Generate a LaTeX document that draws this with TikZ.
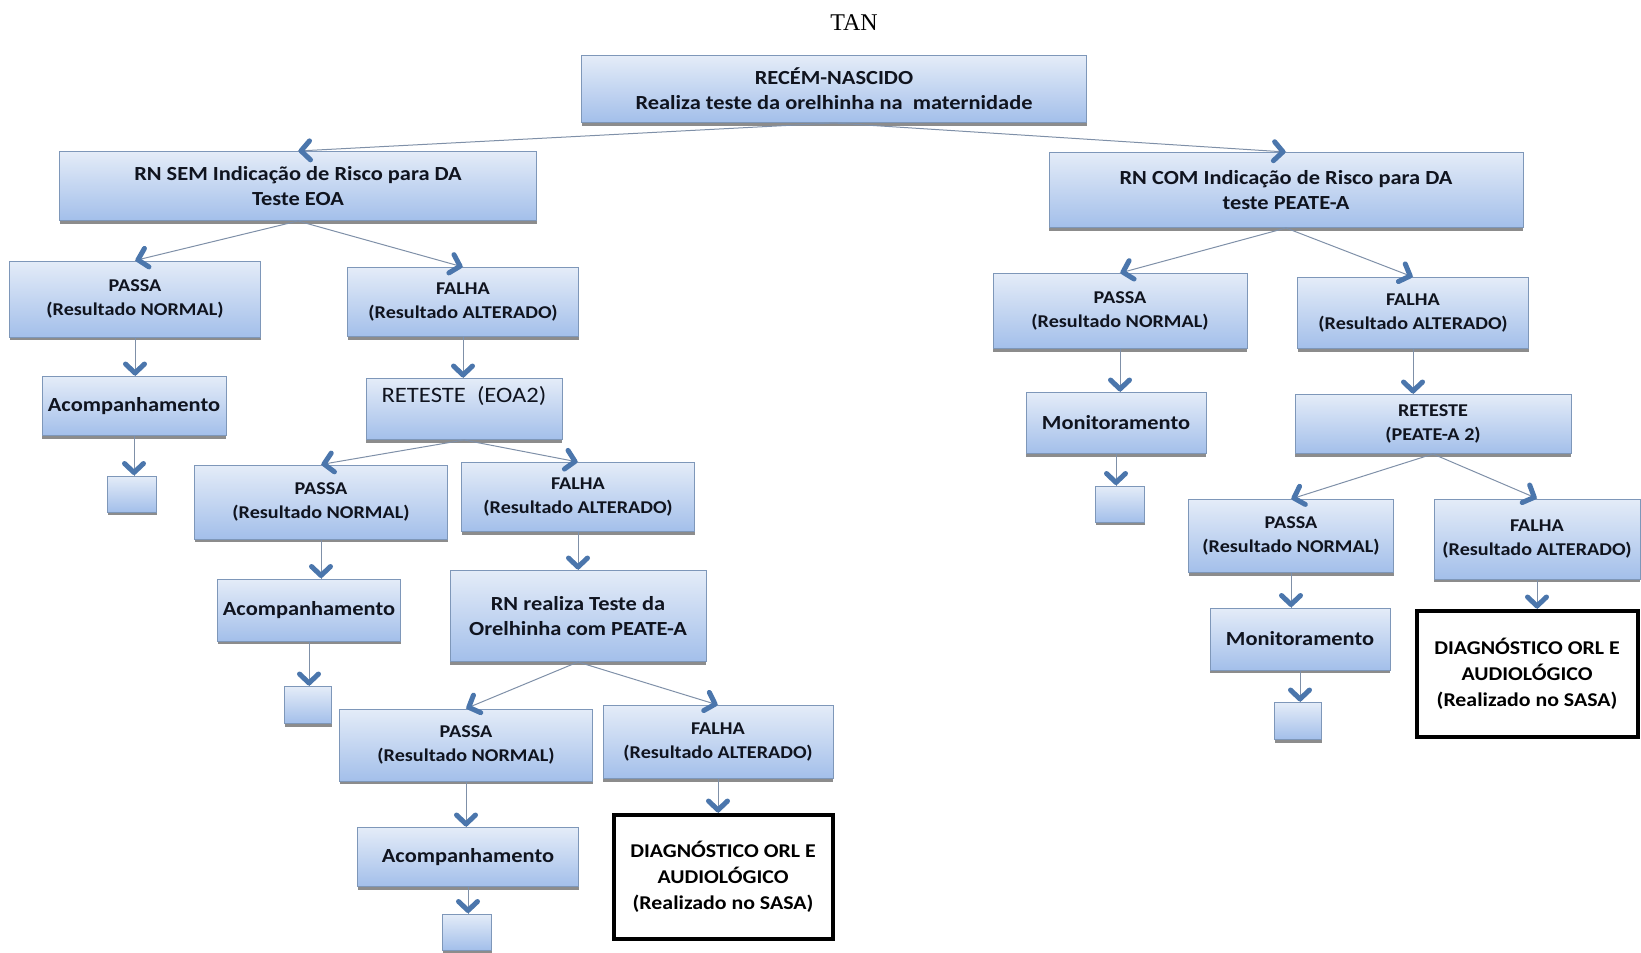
\documentclass[tikz,border=0pt]{standalone}
\usepackage{fontspec}
\setmainfont{Carlito}[FakeStretch=1.12]
\newfontfamily\tanfont{Liberation Serif}
\usetikzlibrary{arrows.meta,shadows,decorations.markings}
\definecolor{boxtop}{HTML}{E4ECF8}
\definecolor{boxbot}{HTML}{A3BFEA}
\definecolor{boxline}{HTML}{7E97B9}
\definecolor{arrblue}{HTML}{4B76AC}
\definecolor{arrline}{HTML}{7F90A8}
\definecolor{txt}{HTML}{10141F}
\tikzset{
  bx/.style={draw=boxline, line width=1pt, top color=boxtop, bottom color=boxbot,
    align=center, text=txt, inner sep=2pt,
    drop shadow={shadow xshift=0pt, shadow yshift=-3pt, fill=gray!80!black, opacity=0.75}},
  big/.style={font=\fontsize{20}{25}\selectfont\bfseries},
  sml/.style={font=\fontsize{18}{24}\selectfont\bfseries},
  diag/.style={draw=black, line width=4pt, fill=white, align=center, text=black,
    font=\fontsize{19.5}{26}\selectfont\bfseries},
  ar/.style={draw=arrline, line width=1pt,
    postaction={decorate, decoration={markings, mark=at position 1 with {
      \draw[arrblue, line width=5pt, line cap=round, line join=round]
        (-12pt,-9.5pt) -- (-3pt,0pt) -- (-12pt,9.5pt);}}}},
}
\begin{document}
\begin{tikzpicture}[x=1pt,y=-1pt]
\useasboundingbox (0,0) rectangle (1641,953);
\node[font=\tanfont\fontsize{24}{24}\selectfont] (tan) at (854,23) {TAN};

\node[bx,big,minimum width=505pt,minimum height=67pt] (main) at (834,89) {RECÉM-NASCIDO\\Realiza teste da orelhinha na\ \ maternidade};

% left branch
\node[bx,big,minimum width=477pt,minimum height=69pt] (sem) at (298,186) {RN SEM Indicação de Risco para DA\\Teste EOA};
\node[bx,sml,minimum width=251pt,minimum height=76pt] (passaA) at (135,299) {PASSA\\(Resultado NORMAL)};
\node[bx,sml,minimum width=231pt,minimum height=69pt] (falhaA) at (463,302) {FALHA\\(Resultado ALTERADO)};
\node[bx,big,minimum width=184pt,minimum height=59pt] (acompA) at (134,406) {Acompanhamento};
\node[bx,minimum width=49pt,minimum height=36pt] (sqA) at (132,494) {};
\node[bx,font=\fontsize{22}{28}\selectfont,minimum width=196pt,minimum height=61pt] (ret1) at (464,409) {RETESTE\ \ (EOA2)\\[2pt]\mbox{}};
\node[bx,sml,minimum width=253pt,minimum height=74pt] (passaB) at (321,502) {PASSA\\(Resultado NORMAL)};
\node[bx,sml,minimum width=233pt,minimum height=69pt] (falhaB) at (578,497) {FALHA\\(Resultado ALTERADO)};
\node[bx,big,minimum width=183pt,minimum height=62pt] (acompB) at (309,610) {Acompanhamento};
\node[bx,minimum width=47pt,minimum height=37pt] (sqB) at (308,705) {};
\node[bx,big,minimum width=256pt,minimum height=91pt] (rnpeate) at (578,616) {RN realiza Teste da\\Orelhinha com PEATE-A};
\node[bx,sml,minimum width=253pt,minimum height=72pt] (passaC) at (466,745) {PASSA\\(Resultado NORMAL)};
\node[bx,sml,minimum width=230pt,minimum height=73pt] (falhaC) at (718,742) {FALHA\\(Resultado ALTERADO)};
\node[bx,big,minimum width=221pt,minimum height=59pt] (acompC) at (468,857) {Acompanhamento};
\node[bx,minimum width=49pt,minimum height=36pt] (sqC) at (467,932) {};
\node[diag,minimum width=219pt,minimum height=124pt] (diagL) at (723,877) {DIAGNÓSTICO ORL E\\AUDIOLÓGICO\\(Realizado no SASA)};

% right branch
\node[bx,big,minimum width=474pt,minimum height=75pt] (com) at (1286,190) {RN COM Indicação de Risco para DA\\teste PEATE-A};
\node[bx,sml,minimum width=254pt,minimum height=75pt] (passaR) at (1120,311) {PASSA\\(Resultado NORMAL)};
\node[bx,sml,minimum width=231pt,minimum height=71pt] (falhaR) at (1413,313) {FALHA\\(Resultado ALTERADO)};
\node[bx,big,minimum width=180pt,minimum height=61pt] (monR) at (1116,423) {Monitoramento};
\node[bx,minimum width=49pt,minimum height=36pt] (sqR) at (1120,504) {};
\node[bx,sml,minimum width=276pt,minimum height=59pt] (ret2) at (1433,424) {RETESTE\\(PEATE-A 2)};
\node[bx,sml,minimum width=205pt,minimum height=73pt] (passaR2) at (1291,536) {PASSA\\(Resultado NORMAL)};
\node[bx,sml,minimum width=206pt,minimum height=80pt] (falhaR2) at (1537,539) {FALHA\\(Resultado ALTERADO)};
\node[bx,big,minimum width=180pt,minimum height=62pt] (monR2) at (1300,639) {Monitoramento};
\node[bx,minimum width=47pt,minimum height=37pt] (sqR2) at (1298,721) {};
\node[diag,minimum width=221pt,minimum height=126pt] (diagR) at (1527,674) {DIAGNÓSTICO ORL E\\AUDIOLÓGICO\\(Realizado no SASA)};

% connectors
\draw[ar] (main.south) -- (sem.north);
\draw[ar] (main.south) -- (com.north);
\draw[ar] (sem.south) -- (passaA.north);
\draw[ar] (sem.south) -- (falhaA.north);
\draw[ar] (passaA.south) -- (passaA.south |- acompA.north);
\draw[ar] (acompA.south) -- (acompA.south |- sqA.north);
\draw[ar] (falhaA.south) -- (falhaA.south |- ret1.north);
\draw[ar] (ret1.south) -- (passaB.north);
\draw[ar] (ret1.south) -- (falhaB.north);
\draw[ar] (passaB.south) -- (passaB.south |- acompB.north);
\draw[ar] (acompB.south) -- (acompB.south |- sqB.north);
\draw[ar] (falhaB.south) -- (falhaB.south |- rnpeate.north);
\draw[ar] (rnpeate.south) -- (passaC.north);
\draw[ar] (rnpeate.south) -- (falhaC.north);
\draw[ar] (passaC.south) -- (passaC.south |- acompC.north);
\draw[ar] (acompC.south) -- (acompC.south |- sqC.north);
\draw[ar] (falhaC.south) -- (falhaC.south |- diagL.north);
\draw[ar] (com.south) -- (passaR.north);
\draw[ar] (com.south) -- (falhaR.north);
\draw[ar] (passaR.south) -- (passaR.south |- monR.north);
\draw[ar] (monR.south) -- (monR.south |- sqR.north);
\draw[ar] (falhaR.south) -- (falhaR.south |- ret2.north);
\draw[ar] (ret2.south) -- (passaR2.north);
\draw[ar] (ret2.south) -- (falhaR2.north);
\draw[ar] (passaR2.south) -- (passaR2.south |- monR2.north);
\draw[ar] (monR2.south) -- (monR2.south |- sqR2.north);
\draw[ar] (falhaR2.south) -- (falhaR2.south |- diagR.north);
\end{tikzpicture}
\end{document}
